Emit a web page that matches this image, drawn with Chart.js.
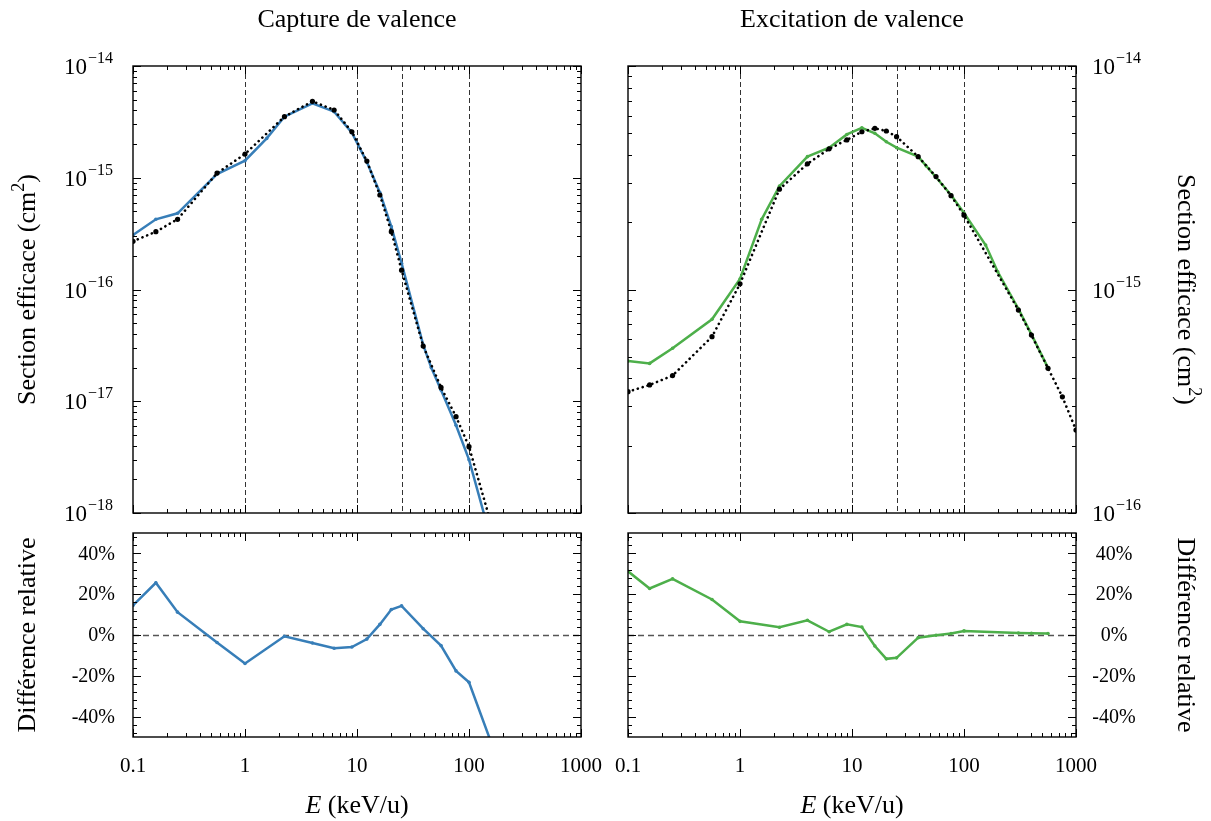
<!DOCTYPE html>
<html>
<head>
<meta charset="utf-8">
<script src="https://cdn.jsdelivr.net/npm/chart.js@4.4.1/dist/chart.umd.min.js"></script>
<style>
  html, body { margin: 0; padding: 0; background: #fff; }
  #wrap { position: relative; width: 1211px; height: 821px; }
  canvas { position: absolute; left: 0; top: 0; }
</style>
</head>
<body>
<div id="wrap">
  <canvas id="capTop" width="1211" height="821"></canvas>
  <canvas id="excTop" width="1211" height="821"></canvas>
  <canvas id="capBot" width="1211" height="821"></canvas>
  <canvas id="excBot" width="1211" height="821"></canvas>
</div>
<script>
// Capture de valence: model (blue) and reference (black dots)
const capE = [0.1, 0.16, 0.25, 0.5625, 1, 1.5625, 2.25, 4, 6.25, 9, 12.25, 16, 20.25, 25, 39, 46, 56.25, 76.6, 100, 156]
const capModel = [3.07e-16, 4.25e-16, 4.81e-16, 1.08e-15, 1.42e-15, 2.25e-15, 3.52e-15, 4.64e-15, 3.9e-15, 2.53e-15,
  1.38e-15, 7.37e-16, 3.65e-16, 1.72e-16, 3.2e-17, 2.0e-17, 1.26e-17, 6.1e-18, 3.0e-18, 6e-19]
const capRefE = [0.1, 0.16, 0.25, 0.5625, 1, 2.25, 4, 6.25, 9, 12.25, 16, 20.25, 25, 39, 56.25, 76.6, 100, 156]
const capRef = [2.7e-16, 3.29e-16, 4.25e-16, 1.1e-15, 1.63e-15, 3.52e-15, 4.83e-15, 4.04e-15, 2.58e-15, 1.41e-15,
  7.01e-16, 3.29e-16, 1.49e-16, 3.12e-17, 1.33e-17, 7.28e-18, 3.92e-18, 8.3e-19]
const capRelE = [0.1, 0.16, 0.25, 0.5625, 1, 2.25, 4, 6.25, 9, 12.25, 16, 20.25, 25, 39, 56.25, 76.6, 100, 156]
const capRel = [14.5, 25.6, 11.2, -3.7, -14, -0.6, -3.9, -6.5, -5.9, -2, 5.2, 12.5, 14.3, 3.1, -5.2, -17.6, -23.2, -52]

// Excitation de valence: model (green) and reference (black dots)
const excE = [0.1, 0.156, 0.25, 0.5625, 1, 1.5625, 2.25, 4, 6.25, 9, 12.25, 16, 20.25, 25, 39, 46, 56.25, 76.6, 100,
  156, 200, 306, 400, 562.5]
const excModel = [4.79e-16, 4.67e-16, 5.46e-16, 7.36e-16, 1.115e-15, 2.06e-15, 2.9e-15, 3.93e-15, 4.31e-15, 4.94e-15,
  5.29e-15, 5.0e-15, 4.58e-15, 4.31e-15, 3.93e-15, 3.57e-15, 3.18e-15, 2.65e-15, 2.2e-15, 1.58e-15, 1.2e-15, 8.2e-16,
  6.3e-16, 4.46e-16]
const excRefE = [0.1, 0.156, 0.25, 0.5625, 1, 2.25, 4, 6.25, 9, 12.25, 16, 20.25, 25, 39, 56.25, 76.6, 100, 306, 400,
  562.5, 756, 1000]
const excRef = [3.49e-16, 3.74e-16, 4.12e-16, 6.15e-16, 1.06e-15, 2.81e-15, 3.65e-15, 4.26e-15, 4.67e-15, 5.08e-15,
  5.26e-15, 5.12e-15, 4.83e-15, 3.93e-15, 3.2e-15, 2.63e-15, 2.15e-15, 8.09e-16, 6.25e-16, 4.44e-16, 3.31e-16, 2.35e-16]
const excRelE = [0.1, 0.156, 0.25, 0.5625, 1, 2.25, 4, 6.25, 9, 12.25, 16, 20.25, 25, 39, 56.25, 76.6, 100, 306, 400, 562.5]
const excRel = [31.2, 22.8, 27.5, 17.4, 6.7, 3.8, 7.2, 1.6, 5.2, 3.9, -5.4, -11.7, -11.2, -1.3, -0.1, 0.7, 2.0, 1.0, 0.8, 0.7]

// Axis ticks
const xTickLabels = ["0.1", "1", "10", "100", "1000"]
const markerLines = [1, 10, 25, 100]
const relTicks = [40, 20, 0, -20, -40]

const BLUE = "#377eb8"
const GREEN = "#4daf4a"
const FONT = '"Liberation Serif", "Times New Roman", serif'
const W = 1211
const H = 821

function pts(xs, ys) {
  return xs.map((x, i) => ({ x: x, y: ys[i] }))
}

function modelSet(xs, ys, color) {
  return {
    data: pts(xs, ys),
    showLine: true,
    borderColor: color,
    backgroundColor: color,
    borderWidth: 2.5,
    pointRadius: 1.8,
    pointBorderWidth: 0,
  }
}

function refSet(xs, ys) {
  return {
    data: pts(xs, ys),
    showLine: true,
    borderColor: "#000",
    backgroundColor: "#000",
    borderWidth: 2.6,
    borderDash: [0.1, 5],
    borderCapStyle: "round",
    pointRadius: 2.6,
    pointBorderWidth: 0,
  }
}

// "10" with a superscript exponent, right or left aligned at x
function drawPow(ctx, x, y, align, exp) {
  ctx.font = "23px " + FONT
  const base = "10"
  const wb = ctx.measureText(base).width
  ctx.font = "16px " + FONT
  const sup = "\u2212" + exp
  const ws = ctx.measureText(sup).width
  const x0 = align === "right" ? x - wb - ws - 1 : x
  ctx.font = "23px " + FONT
  ctx.textAlign = "left"
  ctx.textBaseline = "middle"
  ctx.fillText(base, x0, y + 2)
  ctx.font = "16px " + FONT
  ctx.textBaseline = "alphabetic"
  ctx.fillText(sup, x0 + wb + 1, y - 3)
}

// a string where "²" is drawn as a real raised, smaller 2
function drawTitle(ctx, text, size) {
  const parts = text.split("\u00b2")
  ctx.font = size + "px " + FONT
  const w0 = ctx.measureText(parts[0]).width
  const w1 = parts.length > 1 ? ctx.measureText(parts[1]).width : 0
  ctx.font = Math.round(size * 0.7) + "px " + FONT
  const ws = parts.length > 1 ? ctx.measureText("2").width : 0
  let x = -(w0 + ws + w1) / 2
  ctx.textAlign = "left"
  ctx.textBaseline = "middle"
  ctx.font = size + "px " + FONT
  ctx.fillText(parts[0], x, 0)
  if (parts.length > 1) {
    x += w0
    ctx.font = Math.round(size * 0.7) + "px " + FONT
    ctx.fillText("2", x, -size * 0.32)
    x += ws
    ctx.font = size + "px " + FONT
    ctx.fillText(parts[1], x, 0)
  }
}

const framePlugin = {
  id: "frame",
  beforeDatasetsDraw(chart, args, o) {
    const { ctx, chartArea: a, scales } = chart
    ctx.save()
    ctx.strokeStyle = "#333"
    ctx.lineWidth = 1
    if (o.vlines) {
      ctx.setLineDash([5, 3])
      markerLines.forEach((v) => {
        const px = Math.round(scales.x.getPixelForValue(v)) + 0.5
        ctx.beginPath()
        ctx.moveTo(px, a.top)
        ctx.lineTo(px, a.bottom)
        ctx.stroke()
      })
    }
    if (o.zero) {
      ctx.strokeStyle = "#555"
      ctx.lineWidth = 1.3
      ctx.setLineDash([6, 4])
      const py = Math.round(scales.y.getPixelForValue(0)) + 0.5
      ctx.beginPath()
      ctx.moveTo(a.left, py)
      ctx.lineTo(a.right, py)
      ctx.stroke()
    }
    ctx.restore()
  },
  afterDatasetsDraw(chart, args, o) {
    const { ctx, chartArea: a, scales } = chart
    const xs = scales.x
    const ys = scales.y
    ctx.save()
    ctx.strokeStyle = "#000"
    ctx.fillStyle = "#000"
    ctx.lineWidth = 1

    // x ticks (log, inward, top and bottom)
    for (let d = -1; d <= 3; d++) {
      for (let k = 1; k <= 9; k++) {
        const v = k * Math.pow(10, d)
        if (v > 1000.0001) break
        const px = Math.round(xs.getPixelForValue(v)) + 0.5
        const len = k === 1 ? 8 : 4
        ctx.beginPath()
        ctx.moveTo(px, a.bottom)
        ctx.lineTo(px, a.bottom - len)
        ctx.moveTo(px, a.top)
        ctx.lineTo(px, a.top + len)
        ctx.stroke()
      }
    }

    // y ticks (inward, left and right)
    const yTick = (py, len) => {
      py = Math.round(py) + 0.5
      ctx.beginPath()
      ctx.moveTo(a.left, py)
      ctx.lineTo(a.left + len, py)
      ctx.moveTo(a.right, py)
      ctx.lineTo(a.right - len, py)
      ctx.stroke()
    }
    if (o.log) {
      const d0 = Math.round(Math.log10(ys.min))
      const d1 = Math.round(Math.log10(ys.max))
      for (let d = d0; d <= d1; d++) {
        for (let k = 1; k <= 9; k++) {
          if (d === d1 && k > 1) break
          yTick(ys.getPixelForValue(k * Math.pow(10, d)), k === 1 ? 8 : 4)
        }
      }
    } else {
      for (let v = -48; v <= 48; v += 4) {
        yTick(ys.getPixelForValue(v), v % 20 === 0 ? 8 : 4)
      }
    }

    // frame
    ctx.lineWidth = 1.4
    ctx.strokeRect(a.left, a.top, a.right - a.left, a.bottom - a.top)

    // y tick labels
    if (o.log) {
      const d0 = Math.round(Math.log10(ys.min))
      const d1 = Math.round(Math.log10(ys.max))
      for (let d = d0; d <= d1; d++) {
        const py = ys.getPixelForValue(Math.pow(10, d))
        if (o.side === "left") drawPow(ctx, a.left - 20, py, "right", String(-d))
        else drawPow(ctx, a.right + 16, py, "left", String(-d))
      }
    } else {
      ctx.font = "20px " + FONT
      ctx.textBaseline = "middle"
      relTicks.forEach((v) => {
        const py = ys.getPixelForValue(v) + 1
        const txt = v + "%"
        if (o.side === "left") {
          ctx.textAlign = "right"
          ctx.fillText(txt, a.left - 18, py)
        } else {
          ctx.textAlign = "center"
          ctx.fillText(txt, a.right + 38, py)
        }
      })
    }

    // x tick labels and title
    if (o.xlabels) {
      ctx.font = "21px " + FONT
      ctx.textAlign = "center"
      ctx.textBaseline = "middle"
      xTickLabels.forEach((t) => {
        ctx.fillText(t, xs.getPixelForValue(parseFloat(t)), a.bottom + 29)
      })
      const cx = (a.left + a.right) / 2
      ctx.font = "italic 26px " + FONT
      const we = ctx.measureText("E").width
      ctx.font = "26px " + FONT
      const rest = " (keV/u)"
      const wr = ctx.measureText(rest).width
      const x0 = cx - (we + wr) / 2
      ctx.textAlign = "left"
      ctx.font = "italic 26px " + FONT
      ctx.fillText("E", x0, a.bottom + 69)
      ctx.font = "26px " + FONT
      ctx.fillText(rest, x0 + we, a.bottom + 69)
    }

    // panel title
    if (o.title) {
      ctx.font = "26px " + FONT
      ctx.textAlign = "center"
      ctx.textBaseline = "middle"
      ctx.fillText(o.title, (a.left + a.right) / 2, 20)
    }

    // y axis title
    if (o.ytitle) {
      const cy = (a.top + a.bottom) / 2
      ctx.save()
      if (o.side === "left") {
        ctx.translate(28, cy)
        ctx.rotate(-Math.PI / 2)
      } else {
        ctx.translate(1185, cy)
        ctx.rotate(Math.PI / 2)
      }
      drawTitle(ctx, o.ytitle, o.ysize)
      ctx.restore()
    }
    ctx.restore()
  },
}

function makePanel(id, box, yScale, datasets, opts) {
  new Chart(document.getElementById(id), {
    type: "scatter",
    data: { datasets: datasets },
    options: {
      responsive: false,
      animation: false,
      events: [],
      layout: {
        padding: { left: box.l, right: W - box.r, top: box.t, bottom: H - box.b },
      },
      scales: {
        x: { type: "logarithmic", min: 0.1, max: 1000, display: false },
        y: Object.assign({ display: false }, yScale),
      },
      plugins: {
        legend: { display: false },
        tooltip: { enabled: false },
        frame: opts,
      },
    },
    plugins: [framePlugin],
  })
}

const TOP = { t: 66, b: 513 }
const BOT = { t: 533, b: 737 }
const LEFT = { l: 133, r: 581 }
const RIGHT = { l: 628, r: 1076 }

makePanel("capTop", Object.assign({}, LEFT, TOP),
  { type: "logarithmic", min: 1e-18, max: 1e-14 },
  [refSet(capRefE, capRef), modelSet(capE, capModel, BLUE)],
  { log: true, side: "left", vlines: true, title: "Capture de valence", ytitle: "Section efficace (cm\u00b2)", ysize: 26 })

makePanel("excTop", Object.assign({}, RIGHT, TOP),
  { type: "logarithmic", min: 1e-16, max: 1e-14 },
  [refSet(excRefE, excRef), modelSet(excE, excModel, GREEN)],
  { log: true, side: "right", vlines: true, title: "Excitation de valence", ytitle: "Section efficace (cm\u00b2)", ysize: 26 })

makePanel("capBot", Object.assign({}, LEFT, BOT),
  { type: "linear", min: -50, max: 50 },
  [modelSet(capRelE, capRel, BLUE)],
  { log: false, side: "left", zero: true, xlabels: true, ytitle: "Diff\u00e9rence relative", ysize: 26 })

makePanel("excBot", Object.assign({}, RIGHT, BOT),
  { type: "linear", min: -50, max: 50 },
  [modelSet(excRelE, excRel, GREEN)],
  { log: false, side: "right", zero: true, xlabels: true, ytitle: "Diff\u00e9rence relative", ysize: 26 })
</script>
</body>
</html>
